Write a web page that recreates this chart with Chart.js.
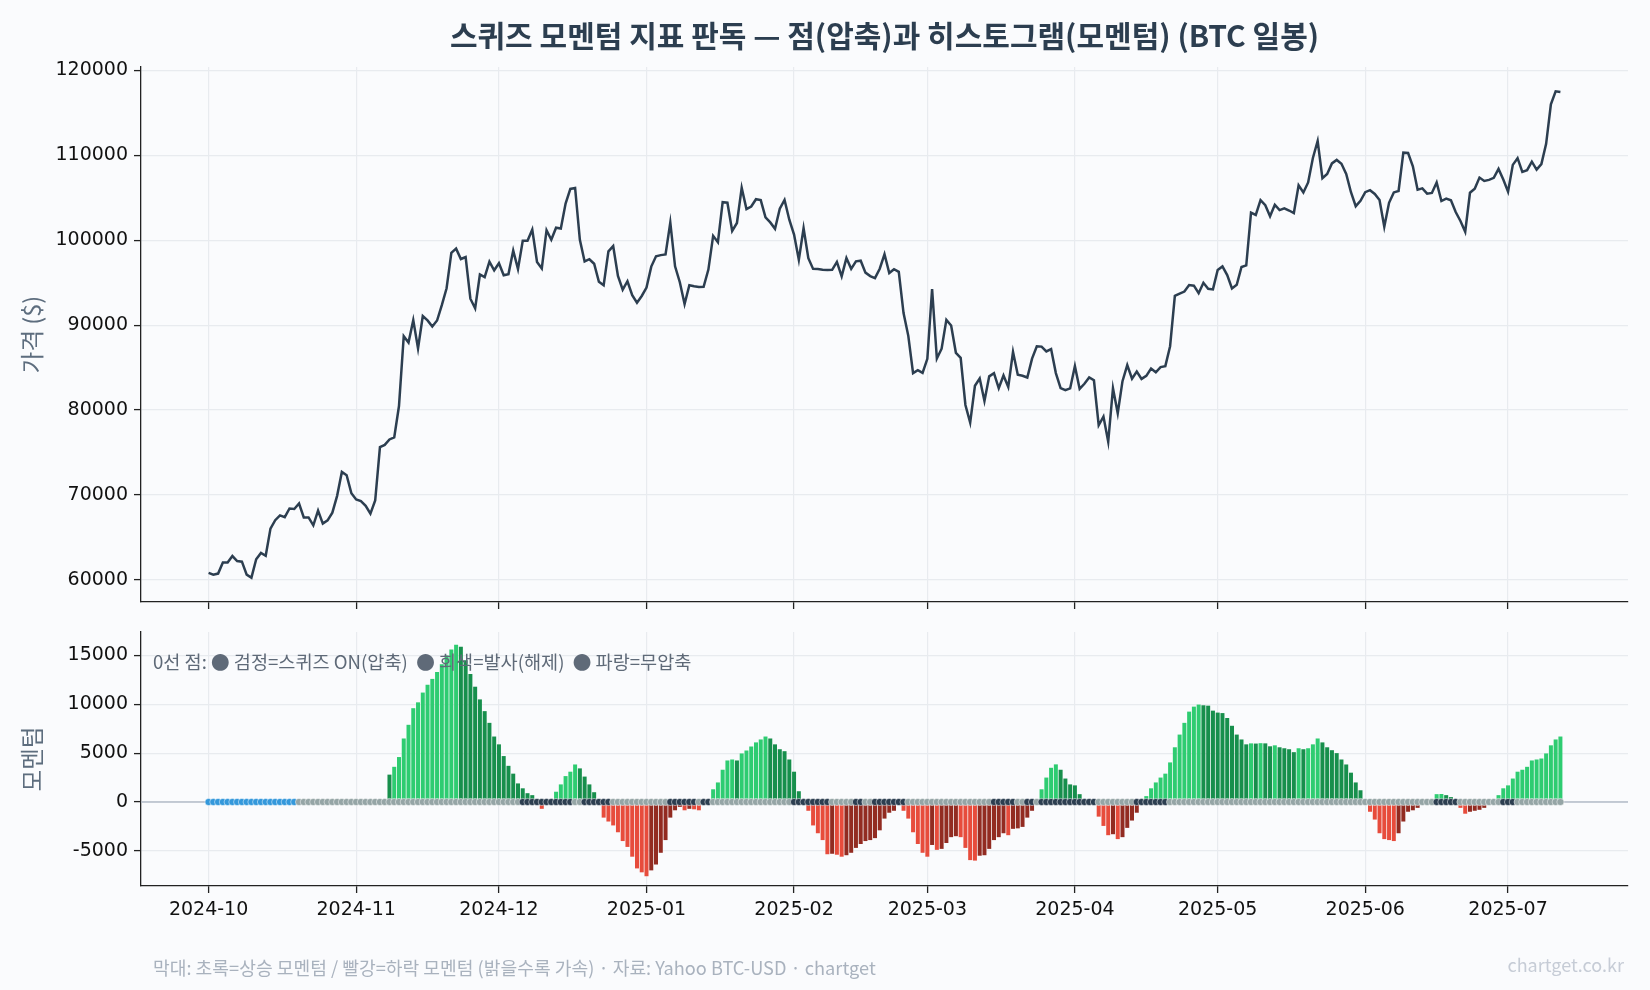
<!DOCTYPE html>
<html><head><meta charset="utf-8">
<script src="https://cdn.jsdelivr.net/npm/chart.js@4.4.1/dist/chart.umd.min.js"></script>
<style>
html,body{margin:0;padding:0;background:#fafbfd;}
#wrap{position:relative;width:1650px;height:990px;overflow:hidden;}
#wrap canvas{position:absolute;left:0;top:0;}
</style></head><body>
<div id="wrap"><canvas id="c1" width="1650" height="990"></canvas><canvas id="c2" width="1650" height="990"></canvas></div>
<script>
// ---------- data ----------
const chartTitle = '스퀴즈 모멘텀 지표 판독 — 점(압축)과 히스토그램(모멘텀) (BTC 일봉)';
const legendNote = '0선 점: ● 검정=스퀴즈 ON(압축)  ● 회색=발사(해제)  ● 파랑=무압축';
const footNote = '막대: 초록=상승 모멘텀 / 빨강=하락 모멘텀 (밝을수록 가속) · 자료: Yahoo BTC-USD · chartget';
const watermark = 'chartget.co.kr';
const priceAxisTitle = '가격 ($)';
const momAxisTitle = '모멘텀';

// day index 0 = 2024-10-01
const monthTickDays = [0, 31, 61, 92, 123, 151, 182, 212, 243, 273];
const monthTickLabels = ['2024-10','2024-11','2024-12','2025-01','2025-02','2025-03','2025-04','2025-05','2025-06','2025-07'];
const priceTicks = [60000, 70000, 80000, 90000, 100000, 110000, 120000];
const momentumTicks = [-5000, 0, 5000, 10000, 15000];

const close2024Oct = [60837,60632,60759,62068,62058,62819,62224,62160,60636,60274,62445,63193,62851,66046,67041,67612,67399,68418,68362,69002,67367,67362,66432,68161,66642,67014,67929,69907,72720,72339,70215];
const close2024Nov = [69482,69289,68742,67811,69359,75640,75905,76545,76778,80474,88701,87955,90584,87250,91066,90558,89845,90542,92343,94339,98504,98997,97778,98013,93102,91986,95962,95652,97461,96450];
const close2024Dec = [97279,95865,96003,98768,96594,99921,99923,101236,97432,96675,101173,100043,101459,101372,104298,106030,106140,100041,97490,97755,97224,95104,94686,98676,99299,95795,94164,95163,93530,92643,93429];
const close2025Jan = [94419,96886,98107,98236,98315,102078,96923,95043,92484,94701,94566,94488,94516,96534,100504,99756,104463,104408,101089,102016,106147,103654,103960,104819,104714,102682,102087,101332,103703,104735,102405];
const close2025Feb = [100655,97688,101405,97871,96615,96593,96529,96482,96500,97437,95748,97885,96623,97508,97580,96176,95773,95540,96636,98334,96125,96577,96273,91418,88737,84347,84705,84373];
const close2025Mar = [86031,94248,86065,87222,90623,89962,86742,86154,80601,78533,82862,83722,81066,83969,84343,82579,84075,82719,86854,84167,84044,83832,86054,87499,87471,86900,87177,84353,82597,82334,82548];
const close2025Apr = [85169,82485,83102,83843,83504,78214,79235,76271,82573,79626,83404,85287,83684,84542,83668,84033,84895,84450,85063,85174,87519,93441,93699,93944,94720,94646,93754,94978,94284,94207];
const close2025May = [96493,96910,95891,94315,94749,96835,97032,103241,102971,104697,104107,102812,104169,103539,103744,103489,103191,106446,105606,106792,109678,111673,107287,107791,109035,109440,108995,107802,105641,103998,104638];
const close2025Jun = [105652,105882,105433,104732,101575,104390,105616,105792,110295,110257,108686,105930,106090,105473,105553,106795,104601,104884,104684,103310,102258,100987,105578,106046,107361,106960,107089,107327,108386,107135];
const close2025Jul = [105698,108859,109648,108034,108231,109232,108300,108950,111327,115987,117516,117435];

// squeeze momentum histogram, first value on day 38 (2024-11-08)
const momentumStartDay = 38;
const momentum = [
  2800,3600,4600,6500,7900,9600,10200,11200,12000,12600,13300,14100,15000,15600,16100,
  15900,14500,13100,11800,10500,9300,8100,6700,5900,4700,3700,2900,1900,1400,900,700,
  200,-700,-300,200,
  1050,1800,2650,3100,3840,
  3440,2600,1800,1000,300,
  -1600,-2000,-2400,-3100,-4000,-4600,-5600,-6800,-7200,-7600,
  -7000,-6400,-5200,-3900,
  -1600,-850,-500,-850,-700,-750,-850,-300,200,
  1300,2000,3300,4250,4350,
  4250,4970,5270,5680,6100,6400,6700,
  6500,5900,5400,5200,4350,3100,1100,200,
  -900,-2400,-3200,-3900,-5350,
  -5300,-5400,-5600,-5450,
  -5200,-4700,-4300,-4000,-3900,-3700,-2900,-1700,-1100,-900,-200,
  -900,-1700,-3100,-4300,-5200,-5600,
  -4400,-4900,-4800,-4200,-3600,-3500,
  -3600,-4700,-5950,-6000,
  -5500,-5450,-4800,-3900,-3600,-3200,
  -3400,-2750,-2700,-2550,-1600,-900,200,
  1300,2500,3500,3850,
  3300,2400,1800,1700,800,300,100,-300,
  -1500,-2450,-3400,
  -3300,
  -3800,
  -3600,-2650,-1900,-1100,-300,
  600,1400,2000,2500,2900,4050,5600,6900,8100,9250,9760,9970,
  9900,9860,9350,9150,9100,8600,7800,6900,6400,5900,
  6000,5980,6020,6000,
  5700,5800,5600,5500,5400,5100,
  5500,5400,5500,5900,6500,
  6100,5600,5300,5000,4350,3840,3000,2000,1200,200,
  -1000,-1800,-3200,-3800,-3900,-4000,
  -3200,-2000,-1000,-850,-600,-300,-100,
  200,800,820,700,500,100,
  -600,-1200,-1000,-900,-800,-600,-300,-100,
  700,1400,1700,2400,3100,3300,3600,4250,4350,4450,4970,5800,6400,6700
];

// zero-line dot state runs: n = no squeeze, o = squeeze on, f = fired (released)
const squeezeRuns = [
  ['n',19],['f',47],['o',11],['f',2],['o',6],['f',12],['o',6],['f',1],['o',2],['f',17],
  ['o',8],['f',5],['o',2],['f',2],['o',7],['f',18],['o',5],['f',2],['o',2],['f',1],
  ['o',12],['f',8],['o',7],['f',56],['o',5],['f',9],['o',3],['f',10]
];

// ---------- build ----------
const closes = [].concat(close2024Oct, close2024Nov, close2024Dec, close2025Jan, close2025Feb,
  close2025Mar, close2025Apr, close2025May, close2025Jun, close2025Jul);
const pricePts = closes.map((v, i) => ({x: i, y: v}));

const C = {
  upFast: '#2ecc71', upSlow: '#178f4c', dnFast: '#e74c3c', dnSlow: '#922b21',
  on: '#2c3e50', fired: '#95a5a6', none: '#3498db'
};
const momPts = momentum.map((v, i) => ({x: momentumStartDay + i, y: v}));
const barColors = momentum.map((v, i) => {
  const prev = i > 0 ? momentum[i - 1] : null;
  if (v >= 0) return (prev !== null && v > prev) ? C.upFast : C.upSlow;
  return (prev !== null && v < prev) ? C.dnFast : C.dnSlow;
});
const squeezeState = [];
squeezeRuns.forEach(([s, n]) => { for (let k = 0; k < n; k++) squeezeState.push(s); });
const dotPts = squeezeState.map((s, i) => ({x: i, y: 0}));
const dotColors = squeezeState.map(s => s === 'o' ? C.on : (s === 'f' ? C.fired : C.none));

// ---------- layout ----------
const X_MIN = -14.2, X_MAX = 298.2;
const PLOT_LEFT = 141, PLOT_RIGHT = 1628;
const FONT_K = "'Noto Sans CJK KR', 'Noto Sans', sans-serif";
const FONT_N = "'DejaVu Sans', sans-serif";
const GRID = '#e8ebef', SPINE = '#222222';

function axisCommon() {
  return {
    grid: {color: GRID, lineWidth: 1.2, offset: false, drawTicks: true, tickLength: 7, tickColor: SPINE, tickWidth: 1.3},
    border: {display: true, color: SPINE, width: 1.3}
  };
}
function xAxis(height, showLabels) {
  return Object.assign(axisCommon(), {
    type: 'linear', min: X_MIN, max: X_MAX, offset: false,
    afterBuildTicks: s => { s.ticks = monthTickDays.map(v => ({value: v})); },
    afterFit: s => { s.height = height; },
    ticks: {display: showLabels, autoSkip: false, maxRotation: 0, color: '#111', padding: 6,
      font: {family: FONT_N, size: 19},
      callback: v => monthTickLabels[monthTickDays.indexOf(v)]}
  });
}
function yAxis(min, max, tickVals, title) {
  return Object.assign(axisCommon(), {
    type: 'linear', min: min, max: max,
    afterBuildTicks: s => { s.ticks = tickVals.map(v => ({value: v})); },
    afterFit: s => { s.width = PLOT_LEFT; },
    ticks: {color: '#111', padding: 6, font: {family: FONT_N, size: 19}, callback: v => String(v)},
    title: {display: true, text: title, color: '#5d6d7e', font: {family: FONT_K, size: 23.5}, padding: {top: 18, bottom: 0}}
  });
}

const titlePlugin = {
  id: 'figTitle',
  afterDraw(chart) {
    const ctx = chart.ctx;
    ctx.save();
    ctx.font = 'bold 30px ' + FONT_K;
    ctx.fillStyle = '#2c3e50';
    ctx.textAlign = 'center';
    ctx.textBaseline = 'middle';
    ctx.fillText(chartTitle, (PLOT_LEFT + PLOT_RIGHT) / 2, 36);
    ctx.restore();
  }
};
const zeroLinePlugin = {
  id: 'zeroLine',
  beforeDatasetsDraw(chart) {
    const {ctx, chartArea, scales} = chart;
    const y = scales.y.getPixelForValue(0);
    ctx.save();
    ctx.strokeStyle = '#b4bcc8';
    ctx.lineWidth = 1.3;
    ctx.beginPath();
    ctx.moveTo(chartArea.left, y);
    ctx.lineTo(chartArea.right, y);
    ctx.stroke();
    ctx.restore();
  }
};
const notesPlugin = {
  id: 'notes',
  afterDraw(chart) {
    const ctx = chart.ctx;
    ctx.save();
    ctx.textBaseline = 'middle';
    ctx.font = '18.6px ' + FONT_K;
    ctx.fillStyle = '#5f6a78';
    ctx.textAlign = 'left';
    ctx.fillText(legendNote, 153, 662);
    ctx.font = '18.2px ' + FONT_K;
    ctx.fillStyle = '#a9b2be';
    ctx.fillText(footNote, 153, 968);
    ctx.font = '18px ' + FONT_K;
    ctx.fillStyle = '#c6ccd6';
    ctx.textAlign = 'right';
    ctx.fillText(watermark, 1624, 965);
    ctx.restore();
  }
};

const common = {responsive: false, animation: false, devicePixelRatio: 1,
  plugins: {legend: {display: false}, tooltip: {enabled: false}, title: {display: false}}};

new Chart(document.getElementById('c1'), {
  type: 'line',
  data: {datasets: [{data: pricePts, borderColor: '#2c3e50', borderWidth: 2.5, pointRadius: 0, tension: 0, fill: false}]},
  options: Object.assign({}, common, {
    layout: {padding: {top: 67, right: 1650 - PLOT_RIGHT, left: 0, bottom: 0}},
    scales: {x: xAxis(990 - 602, false), y: yAxis(57412, 120378, priceTicks, priceAxisTitle)}
  }),
  plugins: [titlePlugin]
});

new Chart(document.getElementById('c2'), {
  type: 'bar',
  data: {datasets: [
    {type: 'scatter', data: dotPts, pointRadius: 3.6, pointHoverRadius: 3.6,
      pointBackgroundColor: dotColors, pointBorderColor: 'rgba(255,255,255,0.7)', pointBorderWidth: 0.7, order: 0},
    {type: 'bar', data: momPts, backgroundColor: barColors, borderWidth: 0,
      barPercentage: 0.84, categoryPercentage: 1, order: 1}
  ]},
  options: Object.assign({}, common, {
    layout: {padding: {top: 632, right: 1650 - PLOT_RIGHT, left: 0, bottom: 0}},
    scales: {x: xAxis(990 - 886, true), y: yAxis(-8600, 17400, momentumTicks, momAxisTitle)}
  }),
  plugins: [zeroLinePlugin, notesPlugin]
});
</script>
</body></html>
